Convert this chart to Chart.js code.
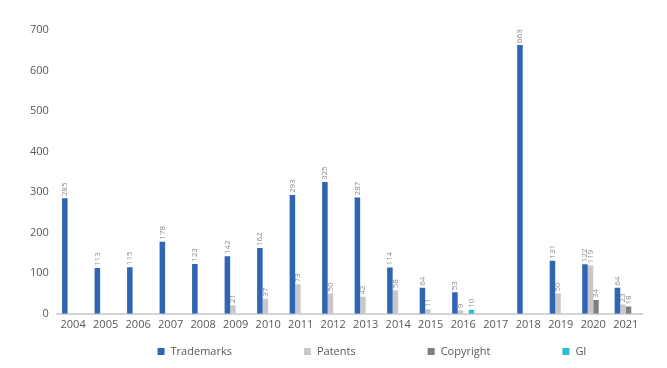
<!DOCTYPE html>
<html>
<head>
<meta charset="utf-8">
<script src="https://cdn.jsdelivr.net/npm/chart.js@4/dist/chart.umd.min.js"></script>
<style>
  html, body { margin: 0; padding: 0; background: #ffffff; }
  #wrap { width: 667px; height: 368px; position: relative; }
</style>
</head>
<body>
<div id="wrap"><canvas id="c" width="667" height="368"></canvas></div>
<script>
const years = ['2004','2005','2006','2007','2008','2009','2010','2011','2012','2013','2014','2015','2016','2017','2018','2019','2020','2021'];
const trademarks = [285, 113, 115, 178, 123, 142, 162, 293, 325, 287, 114, 64, 53, null, 663, 131, 122, 64];
const patents    = [null, null, null, null, null, 21, 37, 73, 50, 42, 58, 11, 9, null, null, 50, 119, 23];
const copyright  = [null, null, null, null, null, null, null, null, null, null, null, null, null, null, null, null, 34, 18];
const gi         = [null, null, null, null, null, null, null, null, null, null, null, null, 10, null, null, null, null, null];
const yTicks = [0, 100, 200, 300, 400, 500, 600, 700];

const FONT = "'Open Sans', 'Noto Sans', sans-serif";

const valueLabels = {
  id: 'valueLabels',
  afterDatasetsDraw(chart) {
    const ctx = chart.ctx;
    ctx.save();
    ctx.font = "8px " + FONT;
    ctx.fillStyle = '#8a8a8a';
    ctx.textAlign = 'left';
    ctx.textBaseline = 'middle';
    chart.data.datasets.forEach((ds, i) => {
      const meta = chart.getDatasetMeta(i);
      meta.data.forEach((bar, j) => {
        const v = ds.data[j];
        if (v === null || v === undefined) return;
        ctx.save();
        ctx.translate(bar.x, bar.y - 2);
        ctx.rotate(-Math.PI / 2);
        ctx.fillText(String(v), 0, 0);
        ctx.restore();
      });
    });
    ctx.restore();
  }
};

// Bottom legend drawn on the canvas with wide, fixed gaps between items.
const wideLegend = {
  id: 'wideLegend',
  afterDraw(chart) {
    const ctx = chart.ctx;
    const gap = 72, box = 7, textGap = 6, centerX = 372, y = 351.5;
    ctx.save();
    ctx.font = "11px " + FONT;
    ctx.textBaseline = 'middle';
    ctx.textAlign = 'left';
    const items = chart.data.datasets.map(ds => ({
      label: ds.label, color: ds.backgroundColor,
      w: box + textGap + ctx.measureText(ds.label).width
    }));
    const total = items.reduce((s, it) => s + it.w, 0) + gap * (items.length - 1);
    let x = centerX - total / 2;
    items.forEach(it => {
      ctx.fillStyle = it.color;
      ctx.fillRect(x, y - box / 2, box, box);
      ctx.fillStyle = '#595959';
      ctx.fillText(it.label, x + box + textGap, y);
      x += it.w + gap;
    });
    ctx.restore();
  }
};

new Chart(document.getElementById('c'), {
  type: 'bar',
  data: {
    labels: years,
    datasets: [
      { label: 'Trademarks', data: trademarks, backgroundColor: '#2f65b3' },
      { label: 'Patents', data: patents, backgroundColor: '#c8c8c8' },
      { label: 'Copyright', data: copyright, backgroundColor: '#7f7f7f' },
      { label: 'GI', data: gi, backgroundColor: '#29c0d4' }
    ]
  },
  options: {
    responsive: false,
    animation: false,
    layout: { padding: { left: 30, right: 25, top: 30, bottom: 33 } },
    datasets: { bar: { categoryPercentage: 0.68, barPercentage: 1.0 } },
    plugins: {
      legend: { display: false },
      tooltip: { enabled: false }
    },
    scales: {
      x: {
        grid: { display: false, drawTicks: false },
        border: { display: true, color: '#d4d4d4', width: 2 },
        ticks: { font: { family: FONT, size: 11 }, color: '#595959', padding: 4, maxRotation: 0, autoSkip: false }
      },
      y: {
        min: 0,
        max: 700,
        afterBuildTicks(scale) { scale.ticks = yTicks.map(v => ({ value: v })); },
        grid: { display: false },
        border: { display: false },
        ticks: { font: { family: FONT, size: 11 }, color: '#595959', padding: 0 }
      }
    }
  },
  plugins: [valueLabels, wideLegend]
});
</script>
</body>
</html>
